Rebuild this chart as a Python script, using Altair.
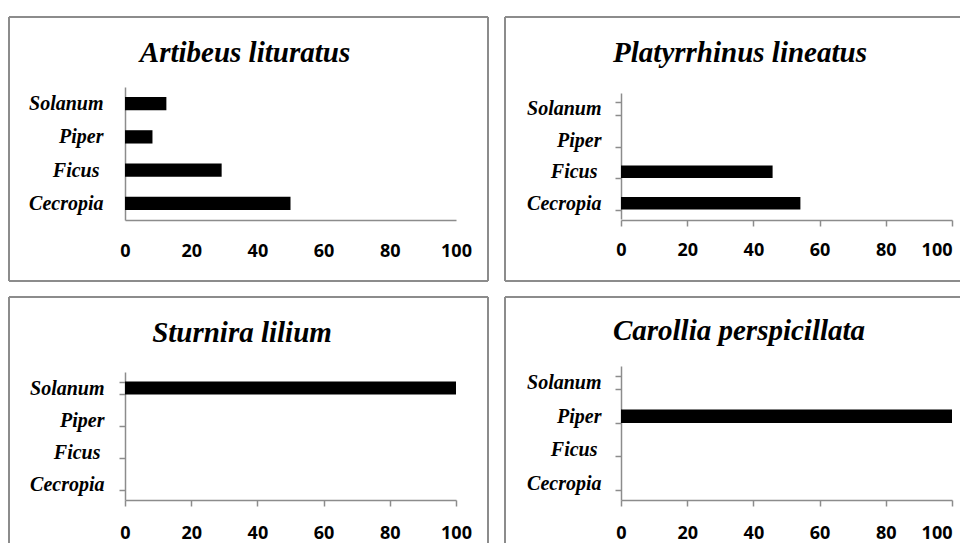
import altair as alt
import pandas as pd

# ---- data ----
genera = ["Cecropia", "Ficus", "Piper", "Solanum"]
order_top_down = ["Solanum", "Piper", "Ficus", "Cecropia"]
species = ["Artibeus lituratus", "Platyrrhinus lineatus",
           "Sturnira lilium", "Carollia perspicillata"]
artibeus = [50.0, 29.2, 8.3, 12.5]
platyrrhinus = [54.2, 45.8, 0.0, 0.0]
sturnira = [0.0, 0.0, 0.0, 100.0]
carollia = [0.0, 0.0, 100.0, 0.0]
x_ticks = [0, 20, 40, 60, 80, 100]

GRAY = "#8c8c8c"
SERIF = "Liberation Serif"
SANS = "Open Sans"
PLOT_W = 331


def panel(title, values, height, y_range, ticks, pad_y, pad_x,
          title_x, title_y, frame, last_align="center"):
    df = pd.DataFrame({"genus": genera, "value": values})
    bars = alt.Chart(df).mark_bar(color="black").encode(
        x=alt.X("value:Q",
                scale=alt.Scale(domain=[0, 100], nice=False),
                axis=alt.Axis(values=x_ticks, title=None, grid=False,
                              domainColor=GRAY, domainWidth=1.5,
                              ticks=ticks, tickSize=6, tickColor=GRAY, tickWidth=1.5,
                              labelFont=SANS, labelFontSize=18, labelFontWeight="bold",
                              labelColor="black", labelPadding=pad_x,
                              labelAlign={"condition": {"test": "datum.value == 100",
                                                        "value": last_align},
                                          "value": "center"},
                              labelFlush=False)),
        y=alt.Y("genus:N", sort=order_top_down,
                scale=alt.Scale(range=y_range, paddingInner=0.6, paddingOuter=0.3),
                axis=alt.Axis(title=None, grid=False,
                              domainColor=GRAY, domainWidth=1.5,
                              ticks=ticks, tickSize=6, tickColor=GRAY, tickWidth=1.5,
                              tickBand="extent",
                              labelFont=SERIF, labelFontSize=20,
                              labelFontStyle="italic", labelFontWeight="bold",
                              labelColor="black",
                              labelPadding={"condition": {"test": "datum.value == 'Ficus'",
                                                          "value": pad_y + 4},
                                            "value": pad_y})),
    )
    layers = [bars]
    fdata = alt.Data(values=[{"edge": 0}])
    for (x1, x2, y1, y2) in frame:
        if y1 == y2:
            enc = dict(x=alt.value(x1), x2=alt.value(x2), y=alt.value(y1))
        else:
            enc = dict(x=alt.value(x1), y=alt.value(y1), y2=alt.value(y2))
        layers.append(alt.Chart(fdata).mark_rule(color=GRAY, strokeWidth=2).encode(**enc))
    head = alt.Chart(alt.Data(values=[{"species": title}])).mark_text(
        font=SERIF, fontSize=29, fontStyle="italic", fontWeight="bold",
        color="black", align="center", baseline="alphabetic",
    ).encode(x=alt.value(title_x), y=alt.value(title_y), text="species:N")
    layers.append(head)
    return alt.layer(*layers).properties(width=PLOT_W, height=height)


p1 = panel(species[0], artibeus, 133, [0, 133], False, 22, 22, 120, -25,
           [(-116, 363, -70, -70), (-116, 363, 194, 194),
            (-116, -116, -70, 194), (363, 363, -70, 194)])
p2 = panel(species[1], platyrrhinus, 133, [6, 132], True, 14, 15, 119, -25,
           [(-116, 346, -70, -70), (-116, 346, 194, 194),
            (-116, -116, -70, 194)], last_align="right")
p3 = panel(species[2], sturnira, 134, [6, 134], True, 15, 18, 117, -24,
           [(-116, 363, -69, -69),
            (-116, -116, -69, 186), (363, 363, -69, 186)])
p4 = panel(species[3], carollia, 134, [0, 134], True, 14, 18, 118, -26,
           [(-116, 346, -69, -69),
            (-116, -116, -69, 186)], last_align="right")

chart = alt.concat(
    p1, p2, p3, p4, columns=2,
    spacing={"row": 146, "column": 165}, bounds="flush",
).properties(
    padding={"left": 0, "top": 8, "right": -8, "bottom": -10},
    background="white",
).configure_view(stroke=None)

chart.save("out.html", embed_options={"renderer": "svg", "actions": False})
